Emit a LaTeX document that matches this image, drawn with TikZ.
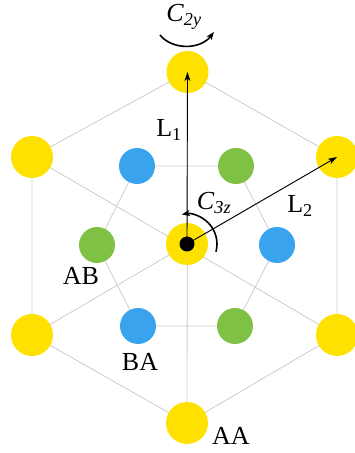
\documentclass[tikz,border=0pt]{standalone}
\usepackage{fontspec}
\setmainfont{Liberation Serif}
\usetikzlibrary{arrows.meta}
\definecolor{aayel}{HTML}{FFE100}
\definecolor{abblue}{HTML}{39A3EE}
\definecolor{bagreen}{HTML}{7FC144}
\definecolor{edgegray}{HTML}{CCCCCC}
\tikzset{
  bigdot/.style={circle,fill=aayel,draw=none,minimum size=42pt,inner sep=0pt},
  bluedot/.style={circle,fill=abblue,draw=none,minimum size=36pt,inner sep=0pt},
  greendot/.style={circle,fill=bagreen,draw=none,minimum size=36pt,inner sep=0pt},
  edge/.style={draw=edgegray,line width=0.8pt},
  vec/.style={draw=black,line width=0.9pt,-{Stealth[length=9pt,width=6pt,inset=2.5pt]}},
  rot/.style={draw=black,line width=1.6pt,-{Stealth[length=8pt,width=6pt,inset=2pt]}},
  lab/.style={font=\fontsize{26}{30}\selectfont,inner sep=0pt},
  clab/.style={font=\fontsize{26}{30}\selectfont,inner sep=0pt}
}
\begin{document}
\begin{tikzpicture}[x=1pt,y=1pt]
\useasboundingbox (0,0) rectangle (355,453);
% coordinates
\coordinate (T) at (187.5,381);
\coordinate (UR) at (337,296);
\coordinate (LR) at (337,118);
\coordinate (B) at (187,30);
\coordinate (LL) at (32,118);
\coordinate (UL) at (32,296);
\coordinate (O) at (187,209);
\coordinate (I0) at (277,208);
\coordinate (I60) at (236,287);
\coordinate (I120) at (137,287);
\coordinate (I180) at (97,208);
\coordinate (I240) at (138,127);
\coordinate (I300) at (235,127);
% gray edges
\draw[edge] (T) -- (UR) -- (LR) -- (B) -- (LL) -- (UL) -- cycle;
\draw[edge] (I0) -- (I60) -- (I120) -- (I180) -- (I240) -- (I300) -- cycle;
\draw[edge] (T) -- (B);
\draw[edge] (UL) -- (LR);
\draw[edge] (LL) -- (UR);
% atoms
\node[bigdot] (nT) at (T) {};
\node[bigdot] (nUR) at (UR) {};
\node[bigdot] (nLR) at (LR) {};
\node[bigdot] (nB) at (B) {};
\node[bigdot] (nLL) at (LL) {};
\node[bigdot] (nUL) at (UL) {};
\node[bigdot] (nO) at (O) {};
\node[bluedot] (n0) at (I0) {};
\node[greendot] (n60) at (I60) {};
\node[bluedot] (n120) at (I120) {};
\node[greendot] (n180) at (I180) {};
\node[bluedot] (n240) at (I240) {};
\node[greendot] (n300) at (I300) {};
% lattice vectors
\draw[vec] (O) -- (T);
\draw[vec] (O) -- (UR);
\node[circle,fill=black,minimum size=15pt,inner sep=0pt] (cdot) at (O) {};
% rotations
\draw[rot] ([shift={(-15:30)}]O) arc[start angle=-15,end angle=100,radius=30];
\coordinate (c2a) at (160,418);
\coordinate (c2b) at (214,421);
\draw[rot] (c2a) .. controls (172,403) and (200,403) .. (c2b);
% labels
\node[lab] (l1) at (169,323) {L\textsubscript{1}};
\node[lab] (l2) at (300,247) {L\textsubscript{2}};
\node[lab] (lab) at (81,177) {AB};
\node[lab] (lba) at (140,91) {BA};
\node[lab] (laa) at (231,17) {AA};
\node[clab] (c2y) at (184,436) {\textit{C}\textsubscript{\textit{2y}}};
\node[clab] (c3z) at (214,250) {\textit{C}\textsubscript{\textit{3z}}};
\end{tikzpicture}
\end{document}
